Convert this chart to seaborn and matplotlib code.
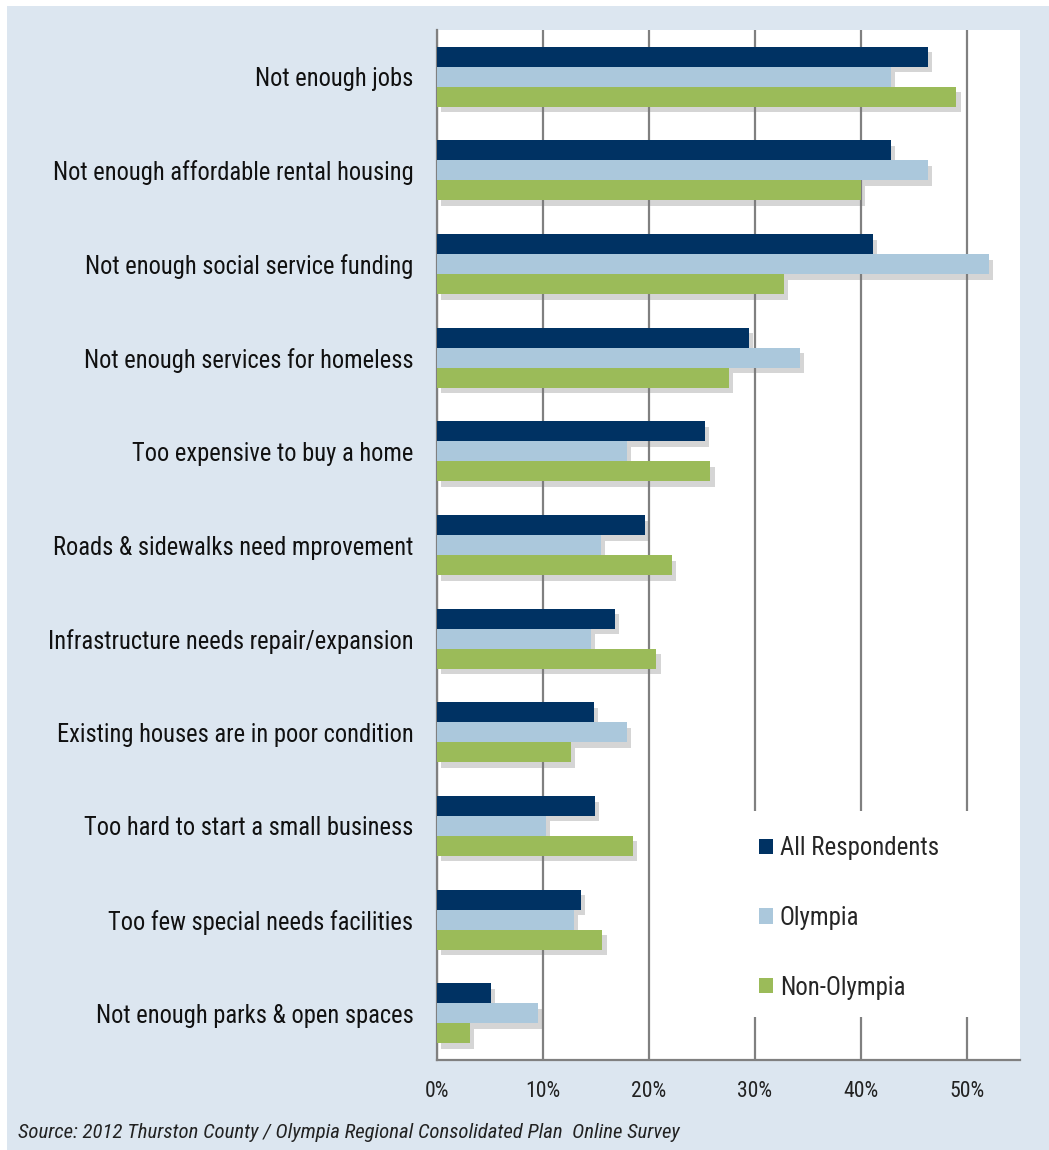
import numpy as np
import pandas as pd
import matplotlib
matplotlib.use("Agg")
import matplotlib.pyplot as plt
import matplotlib.patheffects as pe
from matplotlib import font_manager
from matplotlib.patches import Rectangle, Patch
from matplotlib.ticker import PercentFormatter, FixedLocator
import seaborn as sns

# Survey: community problems, share of respondents selecting each issue (%)
categories = [
    "Not enough jobs",
    "Not enough affordable rental housing",
    "Not enough social service funding",
    "Not enough services for homeless",
    "Too expensive to buy a home",
    "Roads & sidewalks need mprovement",
    "Infrastructure needs repair/expansion",
    "Existing houses are in poor condition",
    "Too hard to start a small business",
    "Too few special needs facilities",
    "Not enough parks & open spaces",
]
series = ["All Respondents", "Olympia", "Non-Olympia"]
all_respondents = [46.3, 42.8, 41.1, 29.4, 25.3, 19.6, 16.8, 14.8, 14.9, 13.6, 5.1]
olympia = [42.8, 46.3, 52.1, 34.2, 17.9, 15.5, 14.5, 17.9, 10.3, 12.9, 9.5]
non_olympia = [49.0, 40.0, 32.7, 27.5, 25.8, 22.2, 20.7, 12.6, 18.5, 15.6, 3.1]
x_ticks = [0, 10, 20, 30, 40, 50]
colors = ["#003263", "#abc8dc", "#9bbb59"]
source_note = "Source: 2012 Thurston County / Olympia Regional Consolidated Plan  Online Survey"

df = pd.DataFrame({
    "category": categories * 3,
    "series": [s for s in series for _ in categories],
    "value": all_respondents + olympia + non_olympia,
})

sns.set_style("white")

# prefer a narrow sans; otherwise shrink a regular one to the same widths
available = {f.name for f in font_manager.fontManager.ttflist}
if "Liberation Sans Narrow" in available:
    text_font, k = "Liberation Sans Narrow", 1.0
elif "Roboto Condensed" in available:
    text_font, k = "Roboto Condensed", 0.94
else:
    text_font, k = "Liberation Sans", 0.825
plt.rcParams["font.family"] = [text_font, "Liberation Sans", "DejaVu Sans"]

label_size = 18.8 * k
legend_size = 19.1 * k
tick_size = 16.7 * k
note_size = 15.9 * k

fig = plt.figure(figsize=(10.49, 11.50), dpi=100, facecolor="white")
fig.patches.append(Rectangle((7 / 1049, 0), 1 - 7 / 1049, (1150 - 6) / 1150,
                             transform=fig.transFigure, facecolor="#dce6f0",
                             edgecolor="none", zorder=-10))
ax = fig.add_axes([437 / 1049, 90 / 1150, (1020 - 437) / 1049, (1060 - 30) / 1150])
ax.set_facecolor("white")

sns.barplot(data=df, y="category", x="value", hue="series", order=categories,
            hue_order=series, palette=colors, saturation=1, width=0.64,
            orient="h", ax=ax, legend=False, linewidth=0)

shadow = [pe.SimplePatchShadow(offset=(3, -4), shadow_rgbFace="#777777", alpha=0.3),
          pe.Normal()]
for bar in ax.patches:
    bar.set_path_effects(shadow)
    bar.set_zorder(3)

ax.set_xlim(0, 55)
ax.set_ylim(len(categories) - 0.5, -0.5)
ax.set_xticks(x_ticks)
ax.xaxis.set_major_formatter(PercentFormatter(decimals=0))
ax.set_axisbelow(True)
ax.grid(axis="x", color="#808080", lw=1.6)
ax.grid(axis="y", visible=False)
ax.set_xlabel("")
ax.set_ylabel("")

for side in ("top", "right"):
    ax.spines[side].set_visible(False)
for side in ("left", "bottom"):
    ax.spines[side].set_color("#808080")
    ax.spines[side].set_linewidth(1.6)

ax.yaxis.set_minor_locator(FixedLocator(np.arange(-0.5, len(categories), 1.0)))
ax.tick_params(axis="y", which="major", length=0, pad=17, labelsize=label_size,
               labelcolor="#111111")
ax.tick_params(axis="y", which="minor", length=7, width=1.6, color="#808080", direction="out")
ax.tick_params(axis="x", which="major", length=6, width=1.6, color="#808080",
               direction="out", pad=9, labelsize=tick_size, labelcolor="#222222")

# white panel behind the legend
ax.add_patch(Rectangle((0.525, 0.0417), 0.475, 0.2, transform=ax.transAxes,
                       facecolor="white", edgecolor="none", zorder=1))
fpx = legend_size * 100 / 72
handles = [Patch(facecolor=c, edgecolor="none") for c in colors]
ax.legend(handles, series, loc="upper left", bbox_to_anchor=(0.552, 0.2175),
          frameon=False, fontsize=legend_size, handlelength=14 / fpx,
          handleheight=14 / fpx, handletextpad=7 / fpx,
          labelspacing=(68.5 - 0.91 * fpx) / fpx, borderpad=0, borderaxespad=0)

fig.text(18 / 1049, (1150 - 1133) / 1150, source_note, fontsize=note_size,
         style="italic", color="#222222", va="center", ha="left")

fig.savefig("out.png", dpi=100, facecolor="white")
